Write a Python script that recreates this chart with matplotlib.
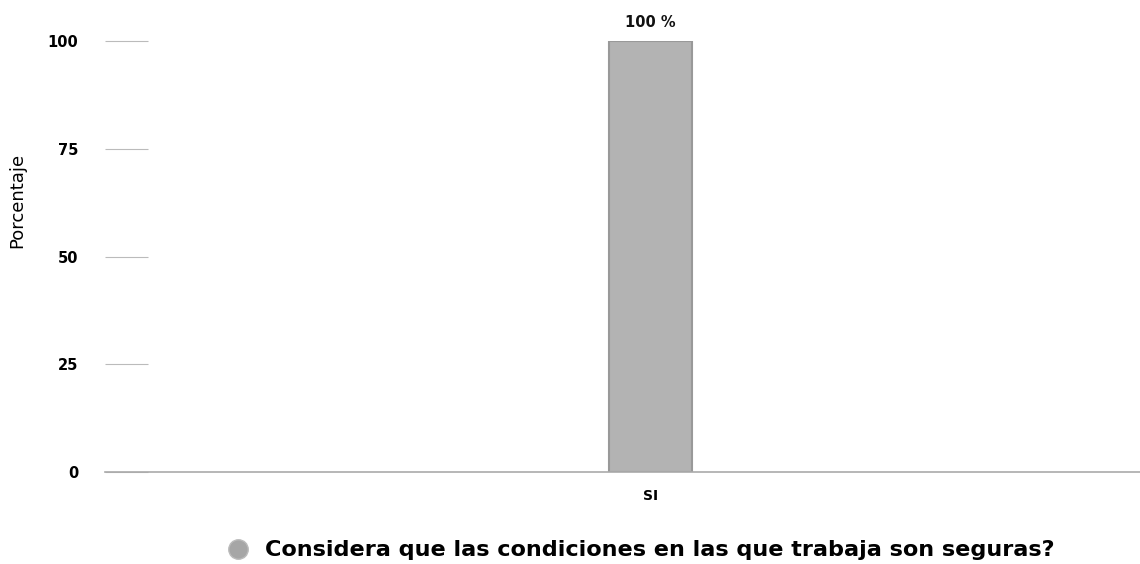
import matplotlib
matplotlib.use("Agg")
from matplotlib import pyplot as plt
from matplotlib.lines import Line2D

categories = ["SI"]
values = [100]
value_labels = ["100 %"]
yticks = [0, 25, 50, 75, 100]
series_name = "Considera que las condiciones en las que trabaja son seguras?"

plt.rcParams['font.family'] = ['DejaVu Sans']

fig = plt.figure(figsize=(11.4, 5.64), dpi=100)
ax = fig.add_axes([0.092, 0.163, 0.908, 0.764])

x = list(range(len(categories)))
bars = ax.bar(x, values, width=0.8, color="#b3b3b3", edgecolor="#999999", linewidth=1.5, zorder=2)
for b, lab in zip(bars, value_labels):
    ax.text(b.get_x() + b.get_width() / 2, b.get_height() + 2.5, lab,
            ha="center", va="bottom", fontsize=10.5, fontweight="bold", color="#111111")

ax.set_xlim(-5.27, 4.73)
ax.set_ylim(0, 100)
ax.set_xticks(x)
ax.set_xticklabels(categories, fontsize=10, fontweight="bold")
ax.tick_params(axis="x", length=0, pad=12)
ax.set_yticks(yticks)
ax.set_yticklabels([str(t) for t in yticks], fontsize=10.5, fontweight="bold")
ax.tick_params(axis="y", direction="in", length=31, width=0.8, color="#bbbbbb", pad=19)
for s in ["top", "right", "left"]:
    ax.spines[s].set_visible(False)
ax.spines["bottom"].set_color("#aaaaaa")
ax.spines["bottom"].set_linewidth(1.2)
ax.set_ylabel("Porcentaje", fontsize=13)
ax.yaxis.set_label_coords(-0.076, 0.63)

handle = Line2D([], [], marker="o", linestyle="", markersize=14,
                markerfacecolor="#a6a6a6", markeredgecolor="#bbbbbb")
fig.legend([handle], [series_name], loc="center", bbox_to_anchor=(0.557, 0.024),
           frameon=False, handletextpad=0.2, prop={"size": 16.1, "weight": "bold"})

fig.savefig("out.png", dpi=100)
